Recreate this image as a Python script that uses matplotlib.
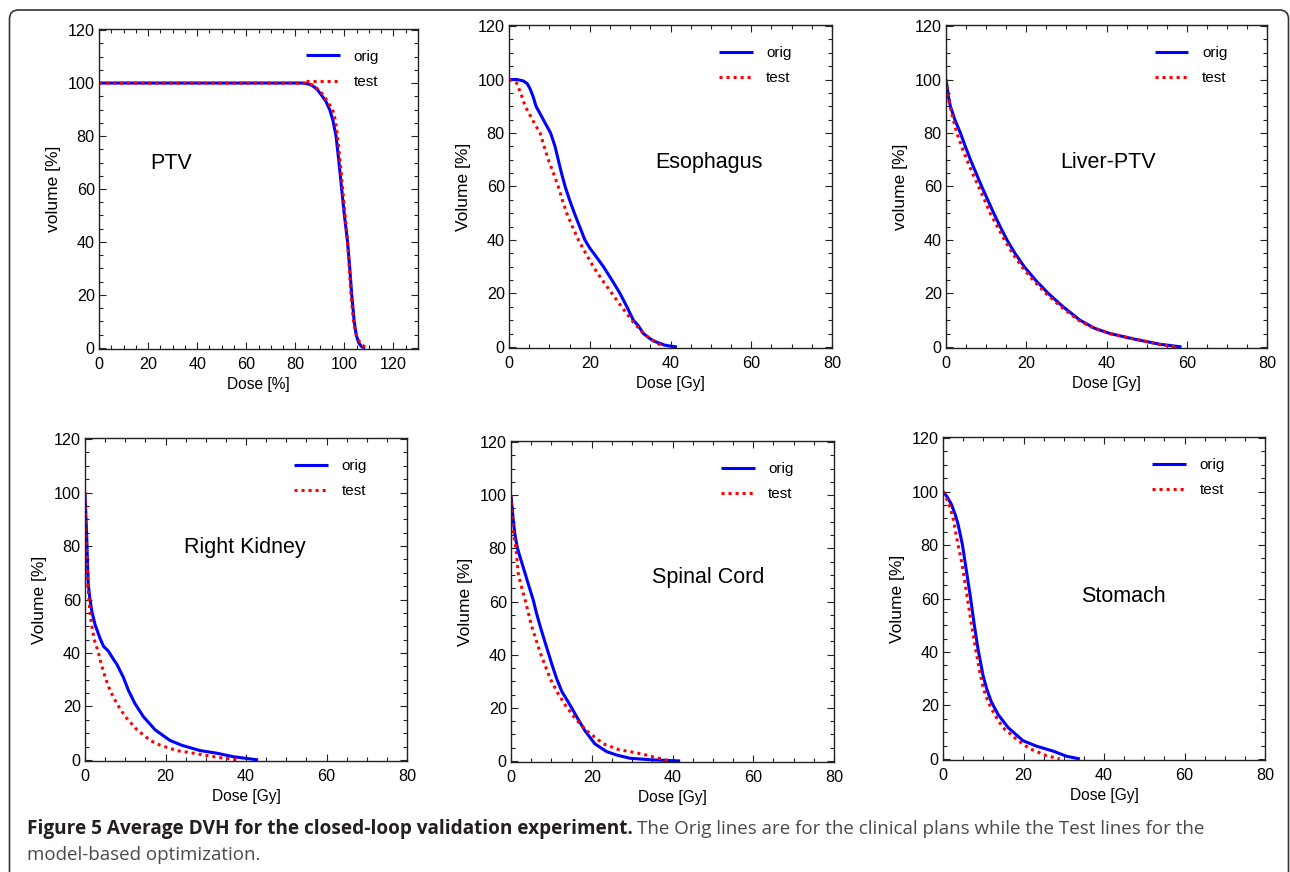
import matplotlib

matplotlib.use("Agg")
import matplotlib.pyplot as plt
from matplotlib.patches import FancyBboxPatch
from matplotlib.transforms import Affine2D
from matplotlib.ticker import MultipleLocator

W, H, DPI = 1290, 872, 100

plt.rcParams["font.family"] = ["Liberation Sans", "DejaVu Sans"]

# ---- data (dose, volume %) ----
ptv_orig_x = [0, 83, 85, 87, 89, 91, 92.5, 94, 95.3, 96.6, 97.8, 98.9, 100, 101.3, 102.2, 103, 104, 104.8, 105.8, 107, 108.5]
ptv_orig_y = [100, 100, 99.7, 99, 97.5, 95, 93, 90, 86, 80, 70, 60, 50, 40, 30, 20, 10, 5, 2, 0.5, 0]
ptv_test_x = [0, 84, 87, 89.5, 91.8, 93.5, 95.2, 96.3, 97.2, 98.3, 99.3, 100.3, 101.3, 102, 102.7, 103.7, 104.8, 106.3, 108, 110]
ptv_test_y = [100, 100, 99.3, 97.5, 95, 92.5, 90, 86, 80, 70, 60, 50, 40, 30, 20, 10, 5, 2, 0.6, 0]

eso_orig_x = [0, 2, 3.5, 4.5, 5.2, 6.0, 6.7, 7.6, 8.5, 9.4, 10.3, 11.4, 12.2, 13.0, 13.9, 15.0, 16.2, 17.5,
              18.8, 20.0, 21.0, 23.4, 25.5, 27.5, 29.2, 30.8, 32, 33.3, 35, 36.2, 38.5, 40, 41.6]
eso_orig_y = [100, 100, 99.5, 98.5, 96.6, 93.5, 90, 87.5, 85, 82.5, 80, 75, 70, 65, 60, 55, 50, 45,
              40, 37, 35, 30, 25, 20, 15, 10, 8, 5, 3, 2, 0.7, 0.3, 0]
eso_test_x = [0, 1.9, 3, 4, 4.9, 5.8, 6.7, 7.7, 8.7, 9.75, 11, 12.2, 13.2, 14.3, 15.7, 17.2, 19, 20.9,
              23.1, 25.5, 27.9, 30.4, 33.3, 35.5, 38.3]
eso_test_y = [100, 98.7, 94.5, 90, 87.5, 85, 82.5, 80, 75, 70, 65, 60, 55, 50, 45, 40, 35, 30,
              25, 20, 15, 10, 5, 2.5, 0]

liv_orig_x = [0, 0.3, 0.7, 1.1, 2.2, 3.6, 4.8, 6.1, 7.5, 8.9, 10.4, 11.9, 13.5, 15.2, 17.2, 19.5, 22.3,
              25.5, 29.2, 33.4, 37, 40.9, 46.7, 53.3, 58.7]
liv_orig_y = [100, 97, 93, 90, 85, 80, 75, 70, 65, 60, 55, 50, 45, 40, 35, 30, 25,
              20, 15, 10, 7, 5, 3, 1, 0]
liv_test_x = [0, 0.3, 0.6, 1.0, 1.8, 2.7, 3.9, 5.2, 6.6, 8.1, 9.6, 11.0, 12.8, 14.6, 16.6, 18.9, 21.7,
              24.9, 28.7, 33.0, 36.8, 40.9, 47, 53, 57.5]
liv_test_y = [100, 96, 93, 90, 85, 80, 75, 70, 65, 60, 55, 50, 45, 40, 35, 30, 25,
              20, 15, 10, 7, 5, 3, 1, 0]

kid_orig_x = [0, 0.2, 0.4, 0.6, 0.8, 1.2, 1.7, 2.5, 3.7, 4.6, 5.8, 7.0, 7.9, 9.5, 10.8, 12.4, 14.5, 17.4,
              21.1, 24, 28.6, 32.8, 36.9, 43]
kid_orig_y = [100, 92, 85, 75, 66, 60.4, 55.6, 50.6, 45.6, 42.5, 40.7, 37.8, 35.8, 31, 26, 21.1, 16.2, 11.3,
              7.3, 5.5, 3.5, 2.5, 1.2, 0]
kid_test_x = [0, 0.2, 0.5, 0.8, 1.2, 1.7, 2.3, 3.3, 4.1, 5.0, 6.2, 7.9, 10, 12.9, 16.2, 18.7, 22.8, 27, 32.8, 38]
kid_test_y = [100, 85, 72, 64, 56, 50, 45, 40.3, 35.5, 31, 26, 21.1, 16.2, 11.3, 7.3, 5.5, 3.5, 2.5, 1, 0]

cord_orig_x = [0, 0.3, 0.6, 1.0, 1.6, 2.6, 3.5, 4.5, 5.5, 6.3, 7.2, 8.2, 9.2, 10.2, 11.3, 12.6, 14.6,
               16.5, 18.3, 20.8, 23.7, 26.2, 29.5, 35, 41.9]
cord_orig_y = [100, 95, 90, 85, 80, 75, 70.5, 65.5, 60.6, 55.7, 50.8, 45.8, 40.9, 36, 31, 26.1, 21.1,
               16, 11.4, 6.4, 3.5, 2.2, 1, 0.4, 0]
cord_test_x = [0, 0.3, 0.6, 1.2, 1.8, 2.6, 3.5, 5.1, 7.2, 9.7, 11.4, 13.4, 15.9, 18.7, 22.9, 26.6, 29.5,
               32.8, 36.1, 39.4]
cord_test_y = [100, 92, 85.3, 80.3, 70.5, 65.5, 60.6, 50.8, 40.9, 31, 26, 21.1, 16, 11.4, 6.4, 4.3, 3.5,
               2.5, 1.2, 0]

sto_orig_x = [0, 1, 2.1, 3.1, 3.7, 4.1, 4.8, 5.3, 5.8, 6.8, 7.7, 8.7, 9.95, 10.9, 12, 13.7, 16.2, 19.9,
              23.2, 27.4, 30.7, 34]
sto_orig_y = [100, 98.1, 95.2, 91.1, 88, 85.3, 80.3, 75.4, 70.5, 60.7, 50.9, 41.1, 31.2, 26, 21.4, 16.6,
              11.7, 6.8, 4.8, 2.9, 1, 0]
sto_test_x = [0, 0.7, 1.5, 2.5, 3.1, 3.7, 4.4, 5.0, 6.0, 7.0, 8.1, 9.3, 10.1, 11.2, 12.8, 14.9, 18.7,
              21.6, 25.7, 29]
sto_test_y = [100, 98, 95.2, 90.2, 85.3, 80.3, 75.4, 70.5, 60.7, 50.9, 41.1, 31.2, 26, 21.4, 16.6, 11.7, 6.8,
              3.8, 1.2, 0]

organs = ["PTV", "Esophagus", "Liver-PTV", "Right Kidney", "Spinal Cord", "Stomach"]
ylabels = ["volume [%]", "Volume [%]", "volume [%]", "Volume [%]", "Volume [%]", "Volume [%]"]
xlabels = ["Dose [%]", "Dose [Gy]", "Dose [Gy]", "Dose [Gy]", "Dose [Gy]", "Dose [Gy]"]
xmax = [130, 80, 80, 80, 80, 80]
curves = [
    (ptv_orig_x, ptv_orig_y, ptv_test_x, ptv_test_y),
    (eso_orig_x, eso_orig_y, eso_test_x, eso_test_y),
    (liv_orig_x, liv_orig_y, liv_test_x, liv_test_y),
    (kid_orig_x, kid_orig_y, kid_test_x, kid_test_y),
    (cord_orig_x, cord_orig_y, cord_test_x, cord_test_y),
    (sto_orig_x, sto_orig_y, sto_test_x, sto_test_y),
]

# axes boxes in pixels (left, top, right, bottom) and label positions (axes fraction)
boxes = [
    (99, 29, 418, 349), (509, 25, 832, 348), (946, 25, 1267, 348),
    (85, 438, 407, 761), (511, 441, 834, 762), (943, 437, 1265, 760),
]
name_pos = [(0.226, 0.58), (0.62, 0.573), (0.505, 0.573), (0.497, 0.66), (0.61, 0.576), (0.56, 0.505)]


def to_fig(l, t, r, b):
    return [l / W, 1 - b / H, (r - l) / W, (b - t) / H]


fig = plt.figure(figsize=(W / DPI, H / DPI), dpi=DPI)

# rounded frame round the whole figure (opens at the bottom edge)
px = Affine2D().scale(1 / DPI) + fig.dpi_scale_trans
frame = FancyBboxPatch((9.5, -30), 1279, 30 + (H - 10), boxstyle="round,pad=0,rounding_size=9",
                       transform=px, fill=False, edgecolor="#333333", linewidth=1.2)
fig.patches.append(frame)

for i, name in enumerate(organs):
    ax = fig.add_axes(to_fig(*boxes[i]))
    ox, oy, tx, ty = curves[i]
    ax.plot(ox, oy, color="#0000ff", lw=2.2, solid_capstyle="butt", label="orig")
    ax.plot(tx, ty, color="#ff0000", lw=2.2, linestyle=(0, (1, 1.3)), label="test")
    ax.set_xlim(0, xmax[i])
    ax.set_ylim(-0.4, 120.4)
    ax.xaxis.set_major_locator(MultipleLocator(20))
    ax.xaxis.set_minor_locator(MultipleLocator(5))
    ax.yaxis.set_major_locator(MultipleLocator(20))
    ax.yaxis.set_minor_locator(MultipleLocator(5))
    ax.tick_params(which="both", direction="in", top=True, right=True, width=0.8, color="#222222")
    ax.tick_params(which="major", length=5)
    ax.tick_params(which="minor", length=2.6)
    ax.tick_params(axis="x", labelsize=11.6, pad=6)
    ax.tick_params(axis="y", labelsize=11.6, pad=3)
    for s in ax.spines.values():
        s.set_linewidth(1.0)
        s.set_color("#222222")
    ax.set_xlabel(xlabels[i], fontsize=11.2, labelpad=3)
    ax.set_ylabel(ylabels[i], fontsize=12.5, labelpad=5)
    ax.text(name_pos[i][0], name_pos[i][1], name, transform=ax.transAxes,
            ha="center", va="center", fontsize=15.5)
    ax.legend(loc="upper left", bbox_to_anchor=(0.65, 0.935), frameon=False, fontsize=11,
              handlelength=2.2, handletextpad=0.9, labelspacing=0.75,
              borderpad=0, borderaxespad=0)

# caption
fig.canvas.draw()
renderer = fig.canvas.get_renderer()
cap_bold = fig.text(27 / W, 38 / H, "Figure 5 Average DVH for the closed-loop validation experiment.",
                    fontsize=13.7, fontweight="bold", family="Open Sans", color="#231f20", va="baseline")
bb = cap_bold.get_window_extent(renderer)
fig.text((bb.x1 + 4) / W, 38 / H,
         "The Orig lines are for the clinical plans while the Test lines for the",
         fontsize=13.5, family="Open Sans", color="#4a4a4a", va="baseline")
fig.text(27 / W, 12 / H, "model-based optimization.", fontsize=13.5, family="Open Sans",
         color="#4a4a4a", va="baseline")

fig.savefig("out.png", dpi=DPI)
